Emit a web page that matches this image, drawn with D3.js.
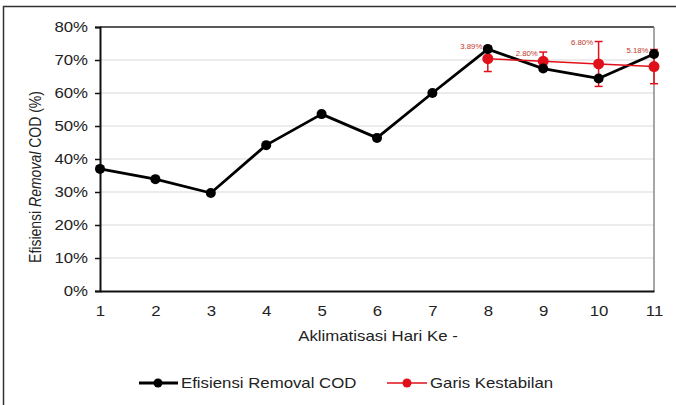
<!DOCTYPE html>
<html>
<head>
<meta charset="utf-8">
<script src="https://cdn.jsdelivr.net/npm/d3@7/dist/d3.min.js"></script>
<style>
  html, body { margin: 0; padding: 0; background: #fff; }
  svg { display: block; font-family: "Liberation Sans", Arial, sans-serif; }
</style>
</head>
<body>
<svg id="chart" width="676" height="405"></svg>
<script>
// Acclimatization days
const days = [1, 2, 3, 4, 5, 6, 7, 8, 9, 10, 11];
// COD removal efficiency (%) per day
const removal = [37.0, 33.9, 29.7, 44.2, 53.6, 46.4, 60.0, 73.3, 67.4, 64.4, 71.8];
// Stability line (days 8–11) with error bar half-widths (%)
const stableDays = [8, 9, 10, 11];
const stableValues = [70.4, 69.6, 68.8, 68.0];
const stableErrors = [3.89, 2.80, 6.80, 5.18];
const yTicks = [0, 10, 20, 30, 40, 50, 60, 70, 80];

const svg = d3.select("#chart");
const plotLeft = 100, plotRight = 654, plotTop = 27, plotBottom = 291;
const FONT = "Liberation Sans, Arial, sans-serif";
const SX = 1.2;          // wide lettering: horizontal stretch for text
const textColor = "#222";
const red = "#e0101a";

const x = d3.scaleLinear().domain([1, 11]).range([plotLeft, plotRight]);
const y = d3.scaleLinear().domain([0, 80]).range([plotBottom, plotTop]);

// horizontal text drawn with the wide lettering
function wideText(parent, tx, ty, str, size, anchor) {
  return parent.append("text")
    .attr("transform", `translate(${tx},${ty}) scale(${SX},1)`)
    .attr("text-anchor", anchor || "start")
    .attr("font-size", size).attr("font-family", FONT).attr("fill", textColor)
    .text(str);
}

// outer frame
svg.append("rect")
  .attr("x", 3.5).attr("y", 6.5).attr("width", 680).attr("height", 410)
  .attr("fill", "none").attr("stroke", "#333").attr("stroke-width", 1.5);

// gridlines
svg.append("g").selectAll("line")
  .data(yTicks.filter(t => t > 0 && t < 80))
  .join("line")
  .attr("x1", plotLeft).attr("x2", plotRight)
  .attr("y1", d => y(d)).attr("y2", d => y(d))
  .attr("stroke", "#d9d9d9").attr("stroke-width", 1);

// plot area border (top dark, right grey)
svg.append("line").attr("x1", plotLeft).attr("x2", plotRight).attr("y1", y(80)).attr("y2", y(80))
  .attr("stroke", "#222").attr("stroke-width", 1.5);
svg.append("line").attr("x1", plotRight).attr("x2", plotRight).attr("y1", y(80)).attr("y2", y(0))
  .attr("stroke", "#888").attr("stroke-width", 1.5);

// y axis
const yAxis = svg.append("g")
  .attr("transform", `translate(${plotLeft},0)`)
  .call(d3.axisLeft(y).tickValues(yTicks).tickFormat(d => d + "%").tickSize(5).tickPadding(7));
yAxis.select(".domain").attr("stroke", "#111").attr("stroke-width", 2);
yAxis.selectAll(".tick line").attr("stroke", "#111").attr("stroke-width", 1.5);
yAxis.selectAll("text")
  .attr("font-size", 14).attr("fill", textColor).attr("font-family", FONT)
  .attr("x", -12 / SX).attr("transform", `scale(${SX},1)`);

// x axis
const xAxis = svg.append("g")
  .attr("transform", `translate(0,${plotBottom})`)
  .call(d3.axisBottom(x).tickValues(days).tickFormat(d3.format("d")).tickSize(0).tickPadding(15));
xAxis.select(".domain").attr("stroke", "#111").attr("stroke-width", 2);
xAxis.selectAll("text")
  .attr("font-size", 14).attr("fill", textColor).attr("font-family", FONT)
  .attr("transform", `scale(${SX},1)`);

// axis titles
wideText(svg, 378, 341, "Aklimatisasi Hari Ke -", 14, "middle");

const yTitle = svg.append("text")
  .attr("transform", `translate(41,177) scale(${SX},1) rotate(-90)`)
  .attr("text-anchor", "middle").attr("font-size", 14)
  .attr("font-family", FONT).attr("fill", textColor);
yTitle.append("tspan").text("Efisiensi ");
yTitle.append("tspan").attr("font-style", "italic").text("Removal");
yTitle.append("tspan").text(" COD (%)");

// removal efficiency line
svg.append("path")
  .datum(days.map((d, i) => [d, removal[i]]))
  .attr("fill", "none").attr("stroke", "#000").attr("stroke-width", 2.8)
  .attr("stroke-linejoin", "round")
  .attr("d", d3.line().x(d => x(d[0])).y(d => y(d[1])));

// stability line
const stable = stableDays.map((d, i) => ({ day: d, v: stableValues[i], e: stableErrors[i] }));
svg.append("path")
  .datum(stable)
  .attr("fill", "none").attr("stroke", red).attr("stroke-width", 1.5)
  .attr("d", d3.line().x(d => x(d.day)).y(d => y(d.v)));

// error bars
const eb = svg.append("g").attr("stroke", red).attr("stroke-width", 1.5);
eb.selectAll(".v").data(stable).join("line")
  .attr("x1", d => x(d.day)).attr("x2", d => x(d.day))
  .attr("y1", d => y(d.v + d.e)).attr("y2", d => y(d.v - d.e));
eb.selectAll(".t").data(stable).join("line")
  .attr("x1", d => x(d.day) - 4).attr("x2", d => x(d.day) + 4)
  .attr("y1", d => y(d.v + d.e)).attr("y2", d => y(d.v + d.e));
eb.selectAll(".b").data(stable).join("line")
  .attr("x1", d => x(d.day) - 4).attr("x2", d => x(d.day) + 4)
  .attr("y1", d => y(d.v - d.e)).attr("y2", d => y(d.v - d.e));

// stability markers
svg.append("g").selectAll("circle").data(stable).join("circle")
  .attr("cx", d => x(d.day)).attr("cy", d => y(d.v)).attr("r", 5.5)
  .attr("fill", red);

// removal markers
svg.append("g").selectAll("circle").data(days).join("circle")
  .attr("cx", d => x(d)).attr("cy", (d, i) => y(removal[i])).attr("r", 5)
  .attr("fill", "#000");

// error labels
const labels = svg.append("g");
stable.forEach(d => {
  wideText(labels, x(d.day) - 5.5, y(d.v + d.e) + 3.5, d.e.toFixed(2) + "%", 6.5, "end")
    .attr("fill", "#c0392b");
});

// legend
const lg = svg.append("g");
lg.append("line").attr("x1", 139).attr("x2", 178).attr("y1", 383).attr("y2", 383)
  .attr("stroke", "#000").attr("stroke-width", 2.8);
lg.append("circle").attr("cx", 158).attr("cy", 383).attr("r", 4.5).attr("fill", "#000");
wideText(lg, 181, 388, "Efisiensi Removal COD", 14);
lg.append("line").attr("x1", 387).attr("x2", 427).attr("y1", 383).attr("y2", 383)
  .attr("stroke", red).attr("stroke-width", 1.5);
lg.append("circle").attr("cx", 407).attr("cy", 383).attr("r", 4.5).attr("fill", red);
wideText(lg, 430, 388, "Garis Kestabilan", 14);
</script>
</body>
</html>
